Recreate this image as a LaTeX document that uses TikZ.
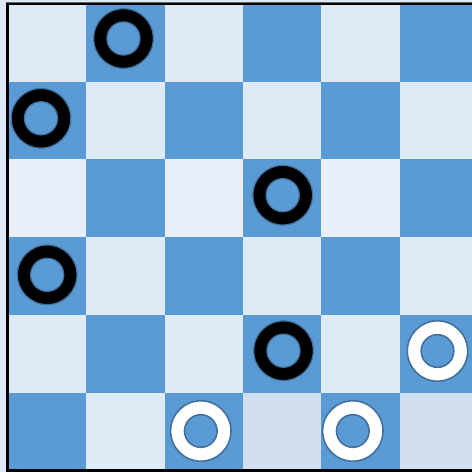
\documentclass[tikz,border=0pt]{standalone}
\definecolor{dk}{HTML}{5B9BD5}
\definecolor{lt}{HTML}{DEEAF6}
\definecolor{ltb}{HTML}{E9EFF8}
\definecolor{ltc}{HTML}{D3DEEF}
\definecolor{edge}{HTML}{41719C}
\tikzset{
  darkpiece/.style={fill=black, even odd rule, draw=edge, line width=1.2pt},
  lightpiece/.style={fill=white, even odd rule, draw=edge, line width=1.6pt},
}
\begin{document}
\begin{tikzpicture}[x=1pt,y=-1pt]
\useasboundingbox (0,0) rectangle (472,472);
\fill[lt] (0,0) rectangle (472,472);
% grid: columns and rows
\def\cw{78.3}
\def\rh{77.7}
\foreach \r/\rowcols in {0/{L,D,L,D,L,D},1/{D,L,D,L,D,L},2/{B,D,B,D,B,D},3/{D,L,D,L,D,L},4/{L,D,L,D,L,D},5/{D,L,D,C,D,C}}{
  \foreach \t [count=\c from 0] in \rowcols {
    \def\col{lt}
    \if\t B\def\col{ltb}\fi
    \if\t C\def\col{ltc}\fi
    \if\t D\def\col{dk}\fi
    \fill[\col] ({8+\c*\cw},{4+\r*\rh}) rectangle ({8+(\c+1)*\cw},{4+(\r+1)*\rh});
  }
}
% frame
\draw[black!60, line width=0.6pt] (6,2.3) -- (472,2.3);
\draw[black, line width=2.4pt] (7.3,471) -- (7.3,4.2) -- (472,4.2);
\draw[black, line width=2.6pt] (6,470.5) -- (472,470.5);
% pieces
\coordinate (p1) at (123.5,38.5);
\coordinate (p2) at (41,118.3);
\coordinate (p3) at (282.7,195.2);
\coordinate (p4) at (47.2,274.8);
\coordinate (p5) at (283.5,350.7);
\coordinate (w1) at (437.5,351);
\coordinate (w2) at (200.8,431);
\coordinate (w3) at (352.8,431);
\foreach \p in {p1,p2,p3,p4,p5}{
  \path[darkpiece] (\p) circle (29.8) (\p) circle (16.6);
}
\foreach \p in {w1,w2,w3}{
  \path[lightpiece] (\p) circle (30.2) (\p) circle (16.3);
}
\end{tikzpicture}
\end{document}
